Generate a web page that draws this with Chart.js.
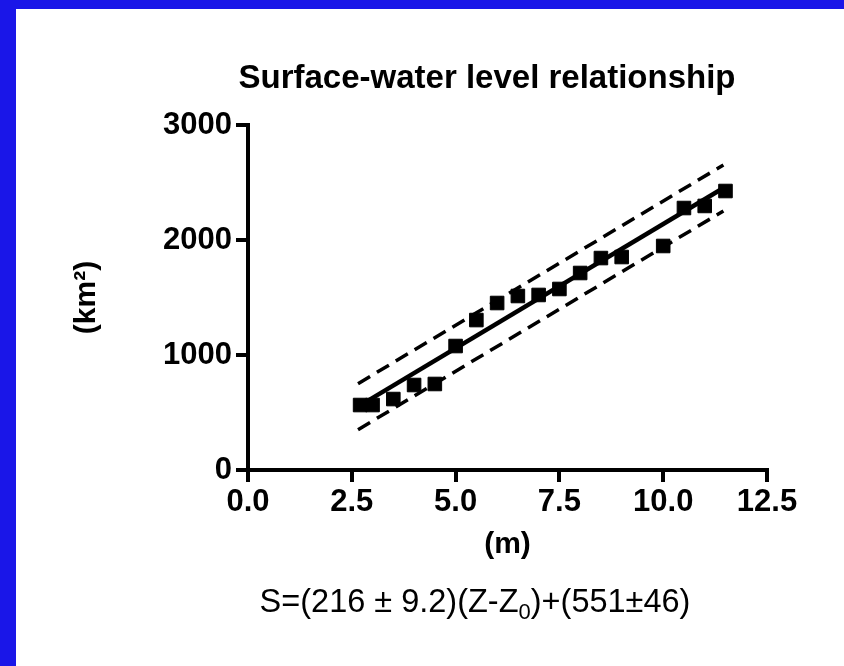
<!DOCTYPE html>
<html>
<head>
<meta charset="utf-8">
<script src="https://cdn.jsdelivr.net/npm/chart.js@4/dist/chart.umd.min.js"></script>
<style>
  html, body { margin: 0; padding: 0; width: 844px; height: 666px; background: #1a16e8; overflow: hidden; }
  #frame { position: absolute; left: 16px; top: 9px; width: 828px; height: 657px; background: #ffffff; }
  canvas { display: block; }
</style>
</head>
<body>
<div id="frame"><canvas id="chart" width="828" height="657"></canvas></div>
<script>
// Water level (m) and surface area (km²) observations
const levelM  = [2.7, 3.0, 3.5, 4.0, 4.5, 5.0, 5.5, 6.0, 6.5, 7.0, 7.5, 8.0, 8.5, 9.0, 10.0, 10.5, 11.0, 11.5];
const areaKm2 = [565, 565, 617, 739, 748, 1078, 1304, 1452, 1513, 1522, 1574, 1713, 1843, 1852, 1948, 2278, 2296, 2426];

// Regression line and its band, given at the two ends of the level range
const fitLevel  = [2.65, 11.45];
const fitArea   = [551, 2452];
const upperArea = [751, 2652];
const lowerArea = [351, 2252];

// Axis ticks
const xTicks = [0, 2.5, 5, 7.5, 10, 12.5];
const xTickLabels = ['0.0', '2.5', '5.0', '7.5', '10.0', '12.5'];
const yTicks = [0, 1000, 2000, 3000];
const yTickLabels = ['0', '1000', '2000', '3000'];

const titleText = 'Surface-water level relationship';
const equationParts = ['S=(216 \u00B1 9.2)(Z-Z', '0', ')+(551\u00B146)'];

const FONT = "'Liberation Sans', Arial, Helvetica, sans-serif";
Chart.defaults.font.family = FONT;
Chart.defaults.color = '#000';

const pts = (xs, ys) => xs.map((x, i) => ({ x: x, y: ys[i] }));

// Heading above the plot and the fitted equation below it
const captions = {
  id: 'captions',
  afterDraw(chart) {
    const ctx = chart.ctx;
    ctx.save();
    ctx.fillStyle = '#000';
    ctx.textBaseline = 'alphabetic';
    ctx.font = "bold 33px " + FONT;
    ctx.textAlign = 'center';
    ctx.fillText(titleText, 471, 79);

    ctx.textAlign = 'left';
    const big = "32.5px " + FONT, small = "22px " + FONT;
    ctx.font = big;
    const w0 = ctx.measureText(equationParts[0]).width;
    const w2 = ctx.measureText(equationParts[2]).width;
    ctx.font = small;
    const w1 = ctx.measureText(equationParts[1]).width;
    let x = 459 - (w0 + w1 + w2) / 2;
    const base = 603;
    ctx.font = big;
    ctx.fillText(equationParts[0], x, base);
    x += w0;
    ctx.font = small;
    ctx.fillText(equationParts[1], x, base + 7);
    x += w1;
    ctx.font = big;
    ctx.fillText(equationParts[2], x, base);
    ctx.restore();
  }
};

new Chart(document.getElementById('chart'), {
  type: 'scatter',
  data: {
    datasets: [
      {
        label: 'Observed',
        data: pts(levelM, areaKm2),
        order: 0,
        pointStyle: 'rect',
        pointRadius: 9.6,
        pointBackgroundColor: '#000',
        pointBorderColor: '#000',
        pointBorderWidth: 1
      },
      {
        label: 'Fit',
        type: 'line',
        data: pts(fitLevel, fitArea),
        order: 1,
        showLine: true,
        borderColor: '#000',
        borderWidth: 4.5,
        pointRadius: 0,
        fill: false
      },
      {
        label: 'Upper',
        type: 'line',
        data: pts(fitLevel, upperArea),
        order: 2,
        showLine: true,
        borderColor: '#000',
        borderWidth: 3.5,
        borderDash: [14, 8],
        pointRadius: 0,
        fill: false
      },
      {
        label: 'Lower',
        type: 'line',
        data: pts(fitLevel, lowerArea),
        order: 2,
        showLine: true,
        borderColor: '#000',
        borderWidth: 3.5,
        borderDash: [14, 8],
        pointRadius: 0,
        fill: false
      }
    ]
  },
  options: {
    responsive: false,
    animation: false,
    devicePixelRatio: 1,
    layout: { padding: { top: 116, right: 77, bottom: 0, left: 0 } },
    plugins: {
      legend: { display: false },
      tooltip: { enabled: false },
      title: { display: false }
    },
    scales: {
      x: {
        type: 'linear',
        min: 0,
        max: 12.5,
        afterFit(scale) { scale.height = 196; },
        afterBuildTicks(scale) { scale.ticks = xTicks.map(v => ({ value: v })); },
        ticks: {
          callback: (v, i) => xTickLabels[i],
          font: { size: 31, weight: 'bold' },
          color: '#000',
          padding: 2,
          maxRotation: 0,
          autoSkip: false
        },
        grid: {
          drawOnChartArea: false,
          drawTicks: true,
          tickLength: 12,
          tickWidth: 4,
          tickColor: '#000',
          color: '#000',
          lineWidth: 4
        },
        border: { display: true, color: '#000', width: 4 },
        title: {
          display: true,
          text: '(m)',
          font: { size: 30, weight: 'bold' },
          color: '#000',
          padding: { top: 0, bottom: 103 }
        }
      },
      y: {
        type: 'linear',
        min: 0,
        max: 3000,
        afterFit(scale) { scale.width = 232; },
        afterBuildTicks(scale) { scale.ticks = yTicks.map(v => ({ value: v })); },
        ticks: {
          callback: (v, i) => yTickLabels[i],
          font: { size: 31, weight: 'bold' },
          color: '#000',
          padding: 4,
          autoSkip: false
        },
        grid: {
          drawOnChartArea: false,
          drawTicks: true,
          tickLength: 12,
          tickWidth: 4,
          tickColor: '#000',
          color: '#000',
          lineWidth: 4
        },
        border: { display: true, color: '#000', width: 4 },
        title: {
          display: true,
          text: '(km\u00B2)',
          font: { size: 30, weight: 'bold' },
          color: '#000',
          padding: { top: 53, bottom: 0 }
        }
      }
    }
  },
  plugins: [captions]
});
</script>
</body>
</html>
